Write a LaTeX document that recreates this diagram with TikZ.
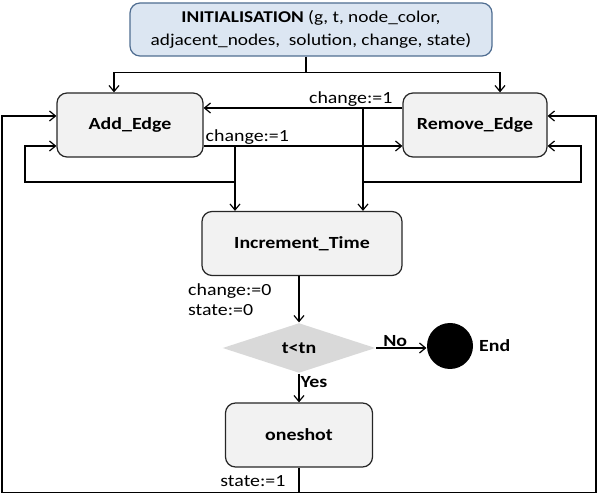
\documentclass[tikz,border=0pt]{standalone}
\usepackage{fontspec}
\setmainfont{Carlito}[FakeStretch=1.17]
\definecolor{initfill}{HTML}{DCE6F2}
\definecolor{initline}{HTML}{4F6D91}
\definecolor{boxfill}{HTML}{F2F2F2}
\definecolor{boxline}{HTML}{262626}
\definecolor{decfill}{HTML}{D9D9D9}
\usetikzlibrary{shapes.geometric,arrows.meta}

\begin{document}
\begin{tikzpicture}[x=1pt,y=-1pt,line width=1.2pt,font=\fontsize{17}{20}\selectfont,
  arr/.style={-{Straight Barb[length=6pt,width=10pt]}},
  initbox/.style={draw=initline,fill=initfill,rounded corners=10pt,align=center,minimum width=362pt,minimum height=53pt,font=\fontsize{16.5}{23}\selectfont},
  box/.style={draw=boxline,fill=boxfill,rounded corners=10pt,font=\fontsize{17}{20}\selectfont\bfseries,minimum height=64pt},
  lbl/.style={inner sep=1pt}]
\useasboundingbox (0,0) rectangle (598,494);
\node[initbox] (init) at (311,29.5) {\textbf{INITIALISATION} (g, t, node\_color,\\adjacent\_nodes,\ \ solution, change, state)};
\node[box,minimum width=146pt] (add) at (130,125) {Add\_Edge};
\node[box,minimum width=144pt] (rem) at (475,125) {Remove\_Edge};
\node[box,minimum width=200pt] (inc) at (302,243.5) {Increment\_Time};
\node[diamond,fill=decfill,minimum width=153pt,minimum height=50pt,inner sep=0pt,font=\fontsize{17}{20}\selectfont\bfseries] (dec) at (299,348) {t<tn};
\node[circle,fill=black,minimum size=46pt,inner sep=0pt] (endc) at (450,346) {};
\node[lbl,right=4pt,font=\fontsize{17}{20}\selectfont\bfseries] (endl) at (endc.east) {End};
\node[box,minimum width=147pt] (one) at (299,435) {oneshot};
% start
\draw[arr] ([xshift=-5pt]init.south) -- ++(0,16) coordinate (split) -| ([xshift=-16pt]add.north);
\draw[arr] (split) -| ([xshift=25pt]rem.north);
% links between the two edge steps
\coordinate (hi) at (363,108);
\coordinate (lo) at (235,146);
\draw[arr] (rem.west |- hi) -- node[lbl,pos=0.26,above]{change:=1} (add.east |- hi);
\draw[arr] (add.east |- lo) -- node[lbl,pos=0.22,above]{change:=1} (rem.west |- lo);
\draw[arr] (lo) -- (lo |- inc.north);
\draw[arr] (hi) -- (hi |- inc.north);
\coordinate (fl) at (235,182);
\coordinate (fr) at (363,182);
\draw[arr] (fl) -| (25,146) -- (add.west |- lo);
\draw[arr] (fr) -| (581,146) -- (rem.east |- lo);
% time step and test
\draw[arr] (dec.north |- inc.south) -- node[lbl,left=26pt,align=left]{change:=0\\state:=0} (dec.north);
\draw[arr] (dec.east) -- node[lbl,pos=0.38,above,font=\fontsize{17}{20}\selectfont\bfseries]{No} (endc.west |- dec.east);
\draw[arr] (dec.south) -- node[lbl,pos=0.3,right,font=\fontsize{17}{20}\selectfont\bfseries]{Yes} (one.north);
% outer loop
\coordinate (oleft) at (2,116);
\coordinate (oright) at (596,116);
\draw (one.south) -- node[lbl,pos=0.55,left=12pt]{state:=1} ++(0,25) coordinate (ob);
\draw[arr] (ob) -| (oleft) -- (add.west |- oleft);
\draw[arr] (ob) -| (oright) -- (rem.east |- oright);
\end{tikzpicture}
\end{document}
